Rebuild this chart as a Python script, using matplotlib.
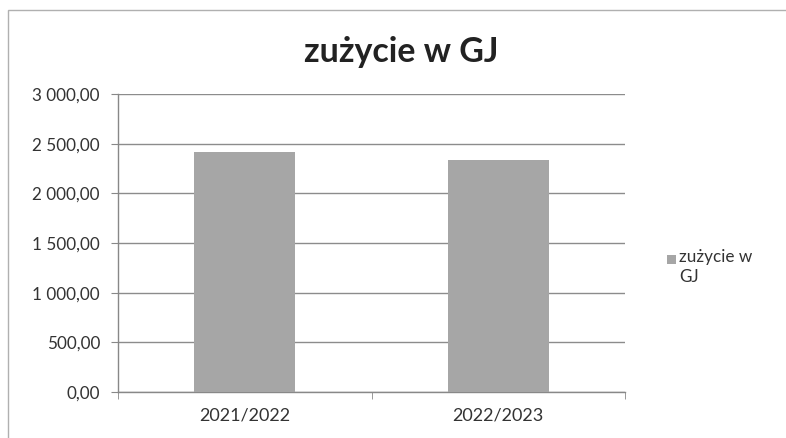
import matplotlib
matplotlib.use("Agg")
import matplotlib.pyplot as plt
from matplotlib.patches import Rectangle
from matplotlib.ticker import FuncFormatter, MultipleLocator, FixedLocator

categories = ["2021/2022", "2022/2023"]
values = [2420.0, 2335.0]
series_name = "zużycie w GJ"
title = "zużycie w GJ"

plt.rcParams['font.family'] = ['Lato', 'DejaVu Sans']

fig = plt.figure(figsize=(7.86, 4.38), dpi=100)
fig.patch.set_facecolor('white')
# outer chart frame
fig.patches.append(Rectangle((8/786, -0.05), 1.2, 1 - 10/438 + 0.05, transform=fig.transFigure,
                             fill=False, edgecolor='#b0b0b0', linewidth=1.0))

ax = fig.add_axes([118/786, 1 - 392/438, (625-118)/786, (392-94)/438])
x = list(range(len(categories)))
bars = ax.bar(x, values, width=0.4, color='#a6a6a6', label=series_name, zorder=3)

ax.set_xlim(-0.5, len(categories) - 0.5)
ax.set_ylim(0, 3000)
ax.yaxis.set_major_locator(MultipleLocator(500))

def fmt(v, pos):
    s = f"{v:,.2f}"
    return s.replace(",", " ").replace(".", ",")
ax.yaxis.set_major_formatter(FuncFormatter(fmt))

ax.set_xticks(x)
ax.set_xticklabels(categories)
ax.xaxis.set_minor_locator(FixedLocator([-0.5, 0.5, 1.5]))
ax.tick_params(axis='x', which='major', length=0, pad=11, labelsize=13, labelcolor='#333333')
ax.tick_params(axis='x', which='minor', length=5, color='#888888', direction='out')
ax.tick_params(axis='y', length=5, color='#888888', direction='out', pad=8, labelsize=12.3, labelcolor='#333333')

ax.grid(axis='y', color='#8c8c8c', linewidth=1.0, zorder=0)
for s in ['top', 'right']:
    ax.spines[s].set_visible(False)
for s in ['left', 'bottom']:
    ax.spines[s].set_color('#888888')
    ax.spines[s].set_linewidth(1.0)

fig.text(401/786, 1 - 52/438, title, ha='center', va='center', fontsize=24.5, fontweight='bold', color='#222222')

# legend
fig.patches.append(Rectangle((667/786, 1 - 264/438), 9/786, 9/438, transform=fig.transFigure,
                             facecolor='#a6a6a6', edgecolor='none'))
fig.text(679/786, 1 - 249/438, "zużycie w\nGJ", ha='left', va='top', fontsize=12.3, color='#333333',
         linespacing=1.3, transform=fig.transFigure)

fig.savefig("out.png", dpi=100)
